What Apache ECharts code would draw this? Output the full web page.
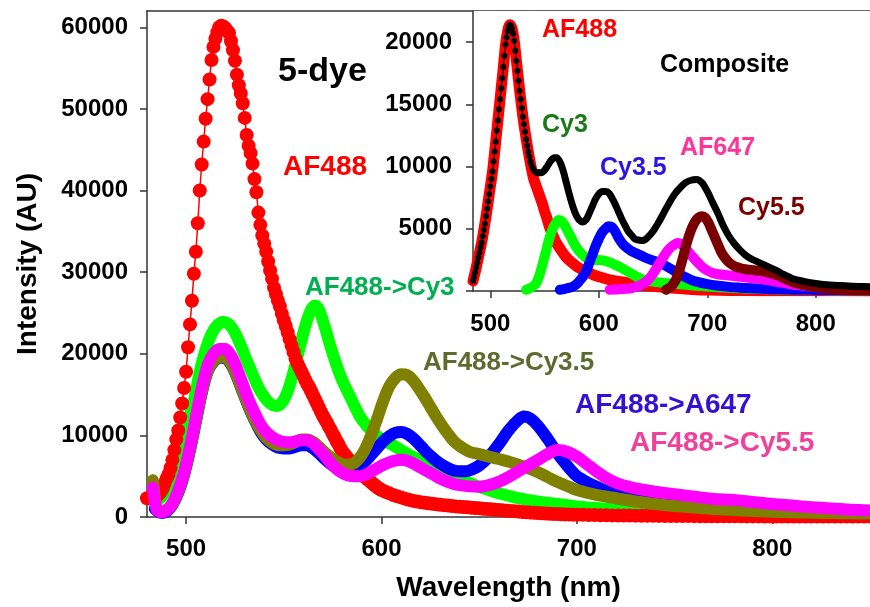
<!DOCTYPE html>
<html lang="en">
  <head>
    <meta charset="UTF-8" />
    <title>5-dye</title>
    <script src="https://cdn.jsdelivr.net/npm/echarts@6/dist/echarts.min.js"></script>
    <style>
      html, body { margin: 0; padding: 0; background: #fff; }
    </style>
  </head>

  <body>
    <div id="main" style="width: 870px; height: 607px"></div>

    <script>
      // ---- main plot, [wavelength nm, intensity AU] ----
      var af488 = [
        [480,2300],[481,2300],[482,2300],[483,2350],[484,2400],[485,2500],[486,2800],[487,3100],[488,3500],[489,4100],
        [490,4700],[491,5200],[492,6000],[493,7000],[494,8200],[495,9500],[496,10600],[497,12200],[498,13900],[499,15800],
        [500,17800],[501,20800],[502,23600],[503,26500],[504,29800],[505,32500],[506,36000],[507,40000],[508,43200],[509,46000],
        [510,48800],[511,51200],[512,53600],[513,56000],[514,57600],[515,58600],[516,59400],[517,60000],[518,60200],[519,60100],
        [520,59900],[521,59600],[522,59300],[523,58300],[524,57200],[525,55900],[526,54200],[527,52900],[528,51900],[529,50700],
        [530,48900],[531,46800],[532,45500],[533,44600],[534,43300],[535,41400],[536,39800],[537,37300],[538,35800],[539,34500],
        [540,33500],[541,32500],[542,31300],[543,30200],[544,29200],[545,28100],[546,27300],[547,26500],[548,25800],[549,24900],
        [550,24100],[551,23400],[552,22600],[553,21800],[554,21000],[555,20200],[556,19400],[557,18800],[558,18300],[559,17800],
        [560,17300],[561,16800],[562,16300],[563,15900],[564,15400],[565,14900],[566,14400],[567,13900],[568,13400],[569,12900],
        [570,12400],[571,12000],[572,11600],[573,11100],[574,10700],[575,10200],[576,9800],[577,9300],[578,8900],[579,8400],
        [580,8000],[581,7700],[582,7400],[583,7100],[584,6800],[585,6500],[586,6200],[587,5900],[588,5700],[589,5400],
        [590,5200],[591,5000],[592,4800],[593,4600],[594,4400],[595,4200],[596,4000],[597,3800],[598,3600],[599,3450],
        [600,3300],[602,3100],[604,2900],[606,2700],[608,2550],[610,2400],[612,2250],[614,2100],[616,2000],[618,1900],
        [620,1820],[622,1750],[624,1680],[626,1620],[628,1560],[630,1500],[632,1450],[634,1400],[636,1350],[638,1300],
        [640,1260],[642,1220],[644,1180],[646,1140],[648,1100],[650,1060],[652,1020],[654,980],[656,940],[658,900],
        [660,860],[662,820],[664,780],[666,740],[668,700],[670,660],[672,620],[674,580],[676,550],[678,520],
        [680,490],[682,460],[684,430],[686,400],[688,380],[690,360],[692,340],[694,320],[696,300],[698,290],
        [700,280],[703,265],[706,250],[709,235],[712,220],[715,205],[718,195],[721,188],[724,180],[727,172],
        [730,165],[733,158],[736,150],[739,143],[742,136],[745,128],[748,120],[751,116],[754,112],[757,108],
        [760,105],[763,101],[766,97],[769,94],[772,90],[775,86],[778,82],[781,80],[784,78],[787,76],
        [790,74],[793,72],[796,70],[799,68],[802,66],[805,64],[808,62],[811,60],[814,59],[817,58],
        [820,56],[823,55],[826,54],[829,54],[832,53],[835,52],[838,52],[841,51],[844,50],[847,50],[850,50]
      ];
      var toCy3 = [
        [483,2500],[486,2200],[489,3000],[492,4800],[495,7300],[498,9500],[501,11800],[504,14200],[507,17800],[510,20500],
        [513,22400],[516,23500],[519,23900],[522,23600],[525,22600],[528,21000],[531,19200],[534,17500],[537,15900],[540,14700],
        [543,13900],[546,13600],[549,14000],[552,15400],[555,17800],[558,20600],[561,23400],[564,25400],[566,25900],[568,25400],
        [571,23300],[574,20800],[577,18600],[580,16700],[583,15200],[586,13700],[589,12300],[592,11300],[595,10500],[598,9900],
        [601,9400],[605,8900],[610,8200],[615,7500],[620,6900],[625,6300],[630,5800],[635,5300],[640,4700],[645,4200],
        [650,3700],[655,3300],[660,2900],[665,2600],[670,2300],[675,2100],[680,1900],[690,1600],[700,1300],[710,1100],
        [720,950],[730,800],[740,700],[750,600],[760,500],[770,430],[780,370],[790,320],[800,280],[810,250],
        [820,220],[830,200],[840,180],[850,170]
      ];
      var toCy35 = [
        [483,4500],[485,1000],[487,700],[490,900],[493,1600],[496,3100],[499,5300],[502,8300],[505,11800],[508,15300],
        [511,17900],[514,19100],[517,19600],[520,19600],[523,18800],[526,17300],[529,15400],[532,13600],[535,12000],[538,10700],
        [541,9700],[544,9100],[547,8800],[550,8800],[553,8900],[556,9200],[559,9500],[562,9500],[565,9200],[568,8600],
        [571,7900],[574,7300],[577,6800],[580,6500],[583,6400],[586,6600],[589,7300],[592,8500],[595,10200],[598,12200],
        [601,14300],[604,16000],[607,17000],[610,17500],[613,17400],[616,16800],[619,15800],[622,14700],[625,13500],[628,12300],
        [631,11200],[634,10200],[637,9300],[640,8700],[645,8000],[650,7700],[655,7400],[660,7100],[665,6800],[670,6400],
        [675,6000],[680,5500],[685,4900],[690,4300],[695,3800],[700,3300],[710,2700],[720,2300],[730,1900],[740,1600],
        [750,1350],[760,1150],[770,980],[780,850],[790,740],[800,650],[810,580],[820,520],[830,480],[840,450],[850,420]
      ];
      var toA647 = [
        [484,1000],[486,600],[488,500],[490,700],[493,1500],[496,3000],[499,5200],[502,8200],[505,11700],[508,15200],
        [511,17800],[514,19000],[517,19500],[520,19500],[523,18700],[526,17200],[529,15300],[532,13500],[535,11900],[538,10500],
        [541,9500],[544,8900],[547,8500],[550,8400],[553,8400],[556,8600],[559,8800],[562,8800],[565,8400],[568,7800],
        [571,7100],[574,6500],[577,6100],[580,5900],[583,5850],[586,5950],[589,6300],[592,6900],[595,7700],[598,8500],
        [601,9300],[604,9900],[607,10300],[610,10400],[613,10200],[616,9700],[619,9000],[622,8200],[625,7500],[628,6900],
        [631,6400],[634,6000],[637,5700],[640,5600],[643,5600],[646,5800],[650,6300],[655,7400],[660,8900],[665,10600],
        [670,11900],[673,12300],[676,12100],[680,11200],[685,9600],[690,7800],[695,6300],[700,5000],[705,4300],[710,3700],
        [715,3200],[720,2900],[725,2600],[730,2300],[740,1900],[750,1600],[760,1300],[770,1100],[780,950],[790,820],
        [800,720],[810,640],[820,580],[830,530],[840,500],[850,470]
      ];
      var toCy55 = [
        [483,3600],[485,900],[487,600],[490,800],[493,1700],[496,3300],[499,5500],[502,8600],[505,12200],[508,15800],
        [511,18600],[514,20000],[517,20600],[520,20600],[523,19800],[526,18200],[529,16300],[532,14400],[535,12800],[538,11400],
        [541,10400],[544,9800],[547,9400],[550,9200],[553,9150],[556,9250],[559,9400],[562,9400],[565,9000],[568,8300],
        [571,7500],[574,6600],[577,5900],[580,5400],[583,5100],[586,5000],[589,5000],[592,5200],[595,5600],[598,6000],
        [601,6400],[604,6700],[607,6900],[610,7000],[613,6900],[616,6600],[619,6200],[622,5800],[625,5400],[628,5000],
        [631,4600],[634,4300],[637,4050],[640,3900],[645,3750],[650,3700],[655,3900],[660,4300],[665,4900],[670,5600],
        [675,6300],[680,7000],[685,7700],[690,8200],[695,8000],[700,7400],[705,6500],[710,5600],[715,4800],[720,4200],
        [725,3800],[730,3500],[740,3100],[750,2800],[760,2500],[770,2200],[780,2100],[790,1850],[800,1600],[810,1400],
        [820,1200],[830,1050],[840,900],[850,800]
      ];

      // ---- inset, [wavelength nm, intensity AU] ----
      var inAF488 = [
        [484,800],[486,1500],[488,2300],[490,3100],[492,3900],[494,4900],[496,6000],[498,7200],[500,8400],[502,9600],
        [504,11200],[506,12900],[508,14600],[510,16300],[512,18000],[514,19800],[516,20900],[518,21400],[520,21100],[522,20100],
        [524,18500],[526,16900],[528,15400],[530,14000],[532,12800],[534,11700],[536,10700],[538,9800],[540,9000],[542,8500],
        [544,8000],[546,7500],[548,7000],[550,6400],[552,5900],[554,5300],[556,4800],[558,4400],[560,4000],[562,3700],
        [565,3300],[570,2700],[575,2300],[580,1950],[585,1700],[590,1500],[595,1300],[600,1150],[610,900],[620,750],
        [630,600],[640,480],[650,380],[660,300],[670,220],[680,160],[690,110],[700,80],[720,50],[750,30],[800,20],[850,10]
      ];
      var inCompDots = [
        [484,800],[485,1150],[486,1500],[487,1900],[488,2300],[489,2700],[490,3100],[491,3500],[492,3900],[493,4400],
        [494,4900],[495,5400],[496,6000],[497,6600],[498,7200],[499,7800],[500,8400],[501,9000],[502,9600],[503,10400],
        [504,11200],[505,12000],[506,12900],[507,13700],[508,14600],[509,15400],[510,16300],[511,17100],[512,18000],[513,18900],
        [514,19800],[515,20400],[516,20900],[517,21250],[518,21400],[519,21300],[520,21100],[521,20700],[522,20100],[523,19300],
        [524,18500],[525,17700],[526,16900],[527,16100],[528,15400],[529,14700],[530,14000],[531,13400],[532,12800],[533,12200],
        [534,11700],[535,11200],[536,10800],[537,10400],[538,10100],[539,9900],[540,9700],[541,9600],[542,9550],[543,9500],
        [544,9500],[545,9500]
      ];
      var inComposite = [
        [544,9500],[547,9500],[550,9700],[553,10100],[556,10500],[559,10700],[561,10700],[564,10400],[567,9700],[570,8700],
        [573,7700],[576,6800],[579,6100],[582,5700],[585,5550],[588,5700],[591,6200],[594,6800],[597,7400],[600,7800],
        [603,8000],[606,8000],[609,7900],[612,7500],[615,7000],[618,6400],[621,5800],[624,5300],[627,4800],[630,4500],
        [633,4200],[636,4100],[639,4050],[642,4100],[645,4300],[650,4800],[655,5500],[660,6300],[665,7100],[670,7800],
        [675,8300],[680,8700],[685,8900],[690,8950],[695,8700],[700,8000],[705,7100],[710,6200],[715,5200],[720,4400],
        [725,3800],[730,3300],[735,2900],[740,2600],[745,2400],[750,2200],[755,2000],[760,1800],[765,1600],[770,1350],
        [775,1150],[780,950],[790,750],[800,600],[810,500],[820,450],[830,400],[840,370],[850,350]
      ];
      var inCy3 = [
        [533,100],[536,200],[539,350],[542,600],[545,1200],[548,2100],[551,3100],[554,4100],[557,4900],[560,5400],
        [563,5700],[566,5600],[569,5200],[572,4700],[575,4200],[578,3700],[581,3300],[584,3000],[587,2750],[590,2600],
        [595,2500],[600,2500],[605,2450],[610,2300],[615,2100],[620,1900],[625,1650],[630,1400],[635,1150],[640,950],
        [650,750],[660,650],[670,580],[680,500],[690,430],[700,370],[710,310],[720,260],[730,220],[740,190],
        [750,160],[760,140],[770,120],[780,100],[790,90],[800,80],[810,70],[820,60],[830,55],[840,50],[850,45]
      ];
      var inCy35 = [
        [564,100],[568,150],[572,250],[576,350],[580,600],[584,1000],[588,1500],[591,2200],[594,2900],[597,3600],
        [600,4200],[603,4700],[606,5000],[609,5200],[612,5150],[615,4800],[618,4300],[621,3900],[624,3600],[627,3400],
        [630,3200],[635,3000],[640,2800],[645,2600],[650,2450],[655,2300],[660,2100],[665,1850],[670,1600],[675,1350],
        [680,1100],[685,900],[690,750],[700,550],[710,420],[720,330],[730,270],[740,220],[750,180],[760,150],
        [770,130],[780,110],[790,100],[800,90],[820,75],[850,60]
      ];
      var inAF647 = [
        [610,100],[615,120],[620,150],[625,180],[630,220],[635,350],[640,550],[645,850],[650,1400],[655,2100],
        [660,2800],[665,3400],[670,3750],[673,3850],[676,3750],[680,3400],[685,2900],[690,2400],[695,1950],[700,1650],
        [705,1450],[710,1350],[720,1250],[730,1150],[740,1050],[750,950],[760,800],[770,650],[780,500],[790,400],
        [800,320],[810,260],[820,200],[830,150],[840,110],[850,80]
      ];
      var inCy55 = [
        [662,100],[665,250],[668,500],[671,900],[674,1600],[677,2500],[680,3500],[683,4400],[686,5100],[689,5600],
        [692,5900],[695,6000],[698,5900],[701,5500],[704,4900],[707,4300],[710,3700],[713,3100],[716,2700],[720,2300],
        [725,2000],[730,1850],[735,1750],[740,1700],[745,1650],[750,1600],[755,1500],[760,1400],[765,1250],[770,1050],
        [775,850],[780,680],[790,450],[800,300],[810,200],[820,150],[830,100],[840,70],[850,50]
      ];

      var xTicks = [500, 600, 700, 800];
      var yTicks = [0, 10000, 20000, 30000, 40000, 50000, 60000];
      var inYLabels = [5000, 10000, 15000, 20000];
      var inYTicks = [0, 5000, 10000, 15000, 20000];

      var FONT = '"Liberation Sans", Arial, sans-serif';
      var AXIS_COLOR = "#333";

      function tickLabel(values, margin) {
        return {
          customValues: values,
          margin: margin,
          color: "#000",
          fontSize: 24,
          fontWeight: "bold",
          fontFamily: FONT,
          formatter: function (v) { return String(v); }
        };
      }
      function axisLine() {
        return { onZero: false, lineStyle: { color: AXIS_COLOR, width: 1.5 } };
      }
      function ticks(values) {
        return { customValues: values, length: 7, lineStyle: { color: AXIS_COLOR, width: 1.5 } };
      }
      var nameStyle = { color: "#000", fontSize: 28, fontWeight: "bold", fontFamily: FONT };

      function band(data, color, width, z, xi, yi) {
        return {
          type: "line",
          data: data,
          xAxisIndex: xi,
          yAxisIndex: yi,
          showSymbol: false,
          smooth: 0.3,
          lineStyle: { color: color, width: width, cap: "round", join: "round" },
          itemStyle: { color: color },
          z: z,
          silent: true
        };
      }

      // [text, left x, center y, size, colour]
      var labels = [
        ["5-dye", 278, 72, 34, "#000000"],
        ["AF488", 283, 167, 28, "#FF0000"],
        ["AF488->Cy3", 305, 288, 26, "#00B050"],
        ["AF488->Cy3.5", 423, 363, 26, "#5E6B2E"],
        ["AF488->A647", 575, 405, 28, "#3311D4"],
        ["AF488->Cy5.5", 630, 443, 28, "#F0409A"],
        ["AF488", 542, 30, 25, "#FF0000"],
        ["Composite", 660, 65, 25, "#000000"],
        ["Cy3", 542, 125, 25, "#1A7A1A"],
        ["Cy3.5", 600, 168, 25, "#2A16E0"],
        ["AF647", 680, 148, 25, "#FF3399"],
        ["Cy5.5", 738, 208, 25, "#7A0000"]
      ];

      var myChart = echarts.init(document.getElementById("main"));

      var option = {
        animation: false,
        backgroundColor: "#fff",
        grid: [
          { left: 147, right: 0, top: 11, bottom: 88 },
          { left: 473, right: 0, top: 11, bottom: 316, show: true, backgroundColor: "#fff", borderWidth: 0, z: 10 }
        ],
        xAxis: [
          {
            gridIndex: 0, type: "value", min: 480, max: 850,
            axisLine: axisLine(), axisTick: ticks(xTicks), axisLabel: tickLabel(xTicks, 20),
            splitLine: { show: false },
            name: "Wavelength (nm)", nameLocation: "middle", nameGap: 57, nameTextStyle: nameStyle
          },
          {
            gridIndex: 0, type: "value", position: "top", min: 480, max: 850,
            axisLine: axisLine(), axisTick: { show: false }, axisLabel: { show: false },
            splitLine: { show: false }
          },
          {
            gridIndex: 1, type: "value", min: 484, max: 850, z: 11,
            axisLine: axisLine(), axisTick: ticks(xTicks), axisLabel: tickLabel(xTicks, 21),
            splitLine: { show: false }
          }
        ],
        yAxis: [
          {
            gridIndex: 0, type: "value", min: 0, max: 62000,
            axisLine: axisLine(), axisTick: ticks(yTicks), axisLabel: tickLabel(yTicks, 19),
            splitLine: { show: false },
            name: "Intensity (AU)", nameLocation: "middle", nameGap: 105, nameTextStyle: nameStyle
          },
          {
            gridIndex: 1, type: "value", min: 0, max: 22500, z: 11,
            axisLine: axisLine(), axisTick: ticks(inYTicks), axisLabel: tickLabel(inYLabels, 21),
            splitLine: { show: false }
          }
        ],
        series: [
          band(toCy3, "#00FF00", 12, 2, 0, 0),
          {
            type: "line",
            data: af488,
            xAxisIndex: 0,
            yAxisIndex: 0,
            symbol: "circle",
            symbolSize: 14,
            lineStyle: { color: "#FF0000", width: 1.5 },
            itemStyle: { color: "#FF0000" },
            z: 3,
            silent: true
          },
          band(toA647, "#0000FF", 12, 4, 0, 0),
          band(toCy35, "#808000", 12, 5, 0, 0),
          band(toCy55, "#FF00FF", 12, 6, 0, 0),

          band(inAF488, "#FF0000", 11, 12, 2, 1),
          band(inCy3, "#00FF00", 10, 13, 2, 1),
          band(inCy35, "#0000FF", 10, 14, 2, 1),
          band(inAF647, "#FF00FF", 10, 15, 2, 1),
          band(inCy55, "#7A0000", 10, 16, 2, 1),
          band(inComposite, "#000000", 7, 17, 2, 1),
          {
            type: "line",
            data: inCompDots,
            xAxisIndex: 2,
            yAxisIndex: 1,
            symbol: "circle",
            symbolSize: 6,
            lineStyle: { color: "#000", width: 1.2 },
            itemStyle: { color: "#000" },
            z: 18,
            silent: true
          }
        ],
        graphic: labels.map(function (l) {
          return {
            type: "text",
            x: l[1],
            y: l[2],
            z: 100,
            style: {
              text: l[0],
              fill: l[4],
              font: "bold " + l[3] + "px " + FONT,
              verticalAlign: "middle"
            }
          };
        })
      };
      myChart.setOption(option);
    </script>
  </body>
</html>
